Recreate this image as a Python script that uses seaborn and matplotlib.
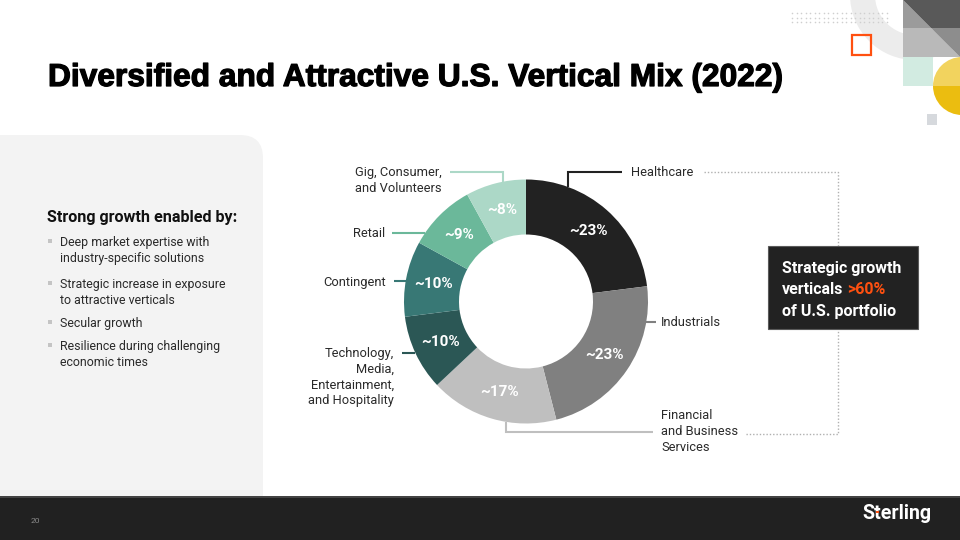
import numpy as np
import matplotlib
matplotlib.use("Agg")
import matplotlib.pyplot as plt
import matplotlib.patheffects as pe
import seaborn as sns
from matplotlib.patches import Rectangle, FancyBboxPatch, Polygon, Wedge

# ---------------- data ----------------
title = "Diversified and Attractive U.S. Vertical Mix (2022)"
subhead = "Strong growth enabled by:"
bullets = ["Deep market expertise with\nindustry-specific solutions",
           "Strategic increase in exposure\nto attractive verticals",
           "Secular growth",
           "Resilience during challenging\neconomic times"]
verticals = ["Healthcare", "Industrials", "Financial\nand Business\nServices",
             "Technology,\nMedia,\nEntertainment,\nand Hospitality",
             "Contingent", "Retail", "Gig, Consumer,\nand Volunteers"]
shares = [23, 23, 17, 10, 10, 9, 8]
share_labels = ["~23%", "~23%", "~17%", "~10%", "~10%", "~9%", "~8%"]
callout_lines = ["Strategic growth", "verticals", "of U.S. portfolio"]
callout_highlight = ">60%"
page_number = "20"
brand = "Sterling"

# ---------------- style ----------------
sns.set_theme(style="white")
plt.rcParams['font.family'] = ['Roboto', 'DejaVu Sans']
palette = sns.color_palette(["#222222", "#808080", "#bfbfbf", "#2b5755",
                             "#387875", "#6bb89a", "#acd8c7"])
ORANGE = "#ff5010"
TXT = "#2a2a2a"

W, H = 960, 540
fig = plt.figure(figsize=(9.6, 5.4), dpi=100, facecolor="white")
ax = fig.add_axes([0, 0, 1, 1])
renderer = fig.canvas.get_renderer()


def Y(y):
    return H - y


def fit(t, target):
    w = t.get_window_extent(renderer).width
    t.set_fontsize(t.get_fontsize() * target / w)
    return t.get_fontsize()


# ---------------- donut ----------------
cx, cy, R, r_in = 526, 301.5, 122, 67
wedges, _ = ax.pie(shares, colors=palette, startangle=90, counterclock=False,
                   radius=R, center=(cx, Y(cy)), frame=True,
                   wedgeprops=dict(width=R - r_in, linewidth=0))
ax.set_xlim(0, W)
ax.set_ylim(0, H)
ax.set_aspect('equal')
ax.axis('off')

rl = (R + r_in) / 2
for w, lab in zip(wedges, share_labels):
    a = np.deg2rad((w.theta1 + w.theta2) / 2)
    ax.text(cx + rl * np.cos(a), Y(cy) + rl * np.sin(a), lab, ha='center',
            va='center', color='white', fontsize=11, fontweight='bold', zorder=4)

# label layout (pixel positions, y measured from top)
layout = {
    "Healthcare": dict(ha='left', x=631, y=176, kind='v', lx=568, ly=172, end=622),
    "Industrials": dict(ha='left', x=661, y=326, kind='h', ly=322, end=656),
    verticals[2]: dict(ha='left', x=661, y=419, kind='v', lx=506, ly=432, end=653),
    verticals[3]: dict(ha='right', x=394, y=357, kind='h', ly=353, end=402),
    "Contingent": dict(ha='right', x=386, y=286, kind='h', ly=281, end=394),
    "Retail": dict(ha='right', x=385, y=237, kind='h', ly=233, end=392),
    verticals[6]: dict(ha='right', x=442, y=176, kind='v', lx=503, ly=172, end=450),
}
LS = 15.8
for name, col in zip(verticals, palette):
    L = layout[name]
    for i, line in enumerate(name.split("\n")):
        ax.text(L['x'], Y(L['y'] + i * LS), line, ha=L['ha'], va='baseline',
                fontsize=9.3, color=TXT)
    if L['kind'] == 'h':
        dy = L['ly'] - cy
        dx = np.sqrt(R ** 2 - dy ** 2)
        xr = cx - dx if L['end'] < cx else cx + dx
        ax.plot([L['end'], xr], [Y(L['ly'])] * 2, color=col, lw=1.5,
                solid_capstyle='butt', zorder=0.5)
    else:
        dx = L['lx'] - cx
        dy = np.sqrt(R ** 2 - dx ** 2)
        yr = cy - dy if L['ly'] < cy else cy + dy
        ax.plot([L['lx'], L['lx'], L['end']], [Y(yr), Y(L['ly']), Y(L['ly'])],
                color=col, lw=1.5, solid_capstyle='butt', solid_joinstyle='miter',
                zorder=0.5)

# dotted bracket
ax.plot([704, 838, 838, 745], [Y(172), Y(172), Y(434), Y(434)],
        ls=(0, (1, 1.4)), color="#b0b0b0", lw=1.0, zorder=0.5)

# callout box
ax.add_patch(Rectangle((768, Y(329)), 150, 83, fc="#222222", ec="#5a5a5a",
                       lw=0.8, zorder=3))
t0 = ax.text(782, Y(273), callout_lines[0], color='white', fontweight='bold',
             fontsize=12, va='baseline', zorder=4)
fs_c = fit(t0, 120)
t1 = ax.text(782, Y(294.5), callout_lines[1], color='white', fontweight='bold',
             fontsize=fs_c, va='baseline', zorder=4)
bb1 = t1.get_window_extent(renderer)
ax.text(bb1.x1 + 4, Y(294.5), callout_highlight, color=ORANGE,
        fontweight='bold', fontsize=fs_c, va='baseline', zorder=4)
ax.text(782, Y(316), callout_lines[2], color='white', fontweight='bold',
        fontsize=fs_c, va='baseline', zorder=4)

# ---------------- left panel ----------------
ax.add_patch(FancyBboxPatch((-40, Y(580)), 303, 445,
                            boxstyle="round,pad=0,rounding_size=23",
                            fc="#f3f3f3", ec='none', zorder=0))
ts = ax.text(47, Y(222), subhead, fontweight='bold', fontsize=12, color="#111111",
             va='baseline')
fit(ts, 190)
bullet_base = [246, 288, 327, 350]
btexts = []
fs_b = 9.3
for txt, yb in zip(bullets, bullet_base):
    ax.add_patch(Rectangle((48, Y(yb - 3.5)), 3.6, 3.6, fc="#c4c4c4", ec='none'))
    for i, line in enumerate(txt.split("\n")):
        tb = ax.text(60.5, Y(yb + i * 16), line, fontsize=9.3, color=TXT,
                     va='baseline')
        btexts.append(tb)
        if line.startswith("Strategic increase"):
            fs_b = fit(tb, 166)
for t in btexts:
    t.set_fontsize(fs_b)

# ---------------- title ----------------
tt = ax.text(48, Y(86), title, fontsize=28, fontweight='bold', color='black',
             va='baseline', family=['Liberation Sans', 'DejaVu Sans'],
             path_effects=[pe.withStroke(linewidth=0.9, foreground='black')])
fit(tt, 735)

# ---------------- top-right decoration ----------------
ax.add_patch(Wedge((915, Y(-5)), 65, 0, 360, width=25, fc="#ececec", ec='none',
                   zorder=0))
gx = np.arange(792, 891, 4.5)
gy = np.array([13, 17.5, 22])
GX, GY = np.meshgrid(gx, gy)
ax.scatter(GX.ravel(), Y(GY.ravel()), s=1.3, color="#cfcfcf", linewidths=0,
           zorder=0.6)
sq = [
    ([(903, 0), (931, 28), (903, 28)], "#9b9b9b"),
    ([(903, 0), (960, 0), (960, 28), (931, 28)], "#595959"),
    ([(903, 28), (931, 28), (960, 57), (903, 57)], "#b9b9b9"),
    ([(931, 28), (960, 28), (960, 57)], "#8d8d8d"),
]
for pts, c in sq:
    ax.add_patch(Polygon([(x, Y(y)) for x, y in pts], closed=True, fc=c,
                         ec='none', zorder=1))
ax.add_patch(Rectangle((903, Y(86)), 30, 29, fc="#d2ebe1", ec='none', zorder=1))
ax.add_patch(Wedge((962, Y(86)), 29, 0, 180, fc="#f2d35e", ec='none', zorder=1.2))
ax.add_patch(Wedge((962, Y(86)), 29, 180, 360, fc="#ebbd10", ec='none', zorder=1.2))
ax.add_patch(Rectangle((851.5, Y(54.5)), 19.5, 20, fc='none', ec=ORANGE, lw=1.6,
                       zorder=1.3))
ax.add_patch(Rectangle((927, Y(125)), 10, 11, fc="#d6d9dd", ec='none', zorder=1))

# ---------------- footer ----------------
ax.add_patch(Rectangle((0, 0), W, Y(496), fc="#212121", ec='none', zorder=5))
ax.plot([0, W], [Y(496.5)] * 2, color="#4a4a4a", lw=1.2, zorder=5.5)
ax.text(31, Y(521), page_number, color="#8a8a8a", fontsize=6, va='center',
        zorder=6)
tl = ax.text(862, Y(519), brand, color='white', fontsize=13, fontweight='bold',
             va='baseline', zorder=6)
fit(tl, 69)
ax.add_patch(Rectangle((875.5, Y(513)), 3.5, 2.5, fc=ORANGE, ec='none', zorder=7))

fig.savefig("out.png", dpi=100, facecolor="white")
